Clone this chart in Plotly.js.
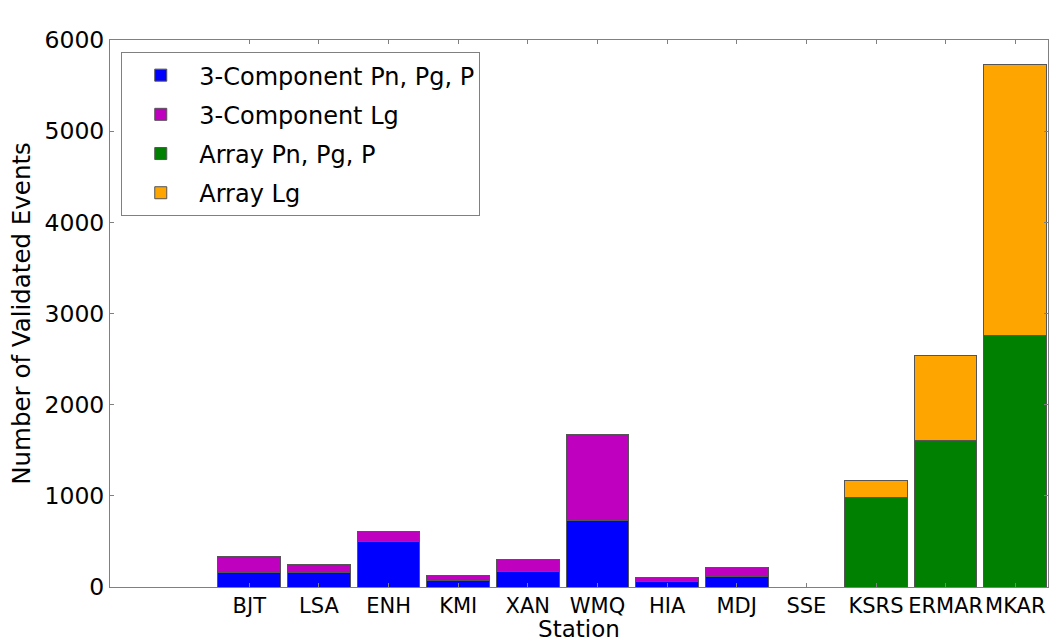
<!DOCTYPE html>
<html>
<head>
<meta charset="utf-8">
<script src="https://cdn.plot.ly/plotly-3.0.1.min.js"></script>
<style>html,body{margin:0;padding:0;background:#fff;}#chart{width:1051px;height:642px;}</style>
</head>
<body>
<div id="chart"></div>
<script>
const stations = ["BJT","LSA","ENH","KMI","XAN","WMQ","HIA","MDJ","SSE","KSRS","ERMAR","MKAR"];
const comp3P  = [160, 160, 500, 70, 175, 727, 55, 110, 0, 0, 0, 0];
const comp3Lg = [172, 90, 110, 55, 130, 943, 50, 102, 0, 0, 0, 0];
const arrayP  = [0, 0, 0, 0, 0, 0, 0, 0, 0, 979, 1611, 2759];
const arrayLg = [0, 0, 0, 0, 0, 0, 0, 0, 0, 194, 925, 2971];
const seriesNames = ["3-Component Pn, Pg, P", "3-Component Lg", "Array Pn, Pg, P", "Array Lg"];
const seriesColors = ["#0000ff", "#bf00bf", "#008000", "#ffa500"];
const yTicks = [0, 1000, 2000, 3000, 4000, 5000, 6000];

const xs = stations.map((s, i) => i);
const allSeries = [comp3P, comp3Lg, arrayP, arrayLg];
const traces = allSeries.map((vals, k) => ({
  type: "bar",
  x: xs,
  y: vals,
  name: seriesNames[k],
  legendgroup: "g" + k,
  width: 0.9,
  marker: {color: seriesColors[k], line: {color: "#555555", width: 1}},
  hoverinfo: "x+y+name"
}));

const layout = {
  width: 1051, height: 642,
  margin: {l: 110, r: 3, t: 40, b: 55},
  paper_bgcolor: "#ffffff", plot_bgcolor: "#ffffff",
  barmode: "stack",
  font: {family: "DejaVu Sans, sans-serif", color: "#000000"},
  showlegend: true,
  legend: {
    x: 0.012, y: 0.978, xanchor: "left", yanchor: "top",
    traceorder: "grouped",
    bordercolor: "#808080", borderwidth: 1, bgcolor: "#ffffff",
    font: {size: 24, family: "DejaVu Sans, sans-serif"},
    tracegroupgap: 5, itemwidth: 67
  },
  xaxis: {
    range: [-2.0, 11.47],
    tickmode: "array", tickvals: xs, ticktext: stations,
    tickangle: 0,
    ticks: "inside", ticklen: 4, tickcolor: "#808080",
    showline: true, linecolor: "#808080", linewidth: 1, mirror: "ticks",
    showgrid: false, zeroline: false,
    tickfont: {size: 21},
    title: {text: "Station", font: {size: 23}, standoff: 0}
  },
  yaxis: {
    range: [0, 6000],
    tickmode: "array", tickvals: yTicks, ticktext: yTicks.map(String),
    ticks: "inside", ticklen: 4, tickcolor: "#808080",
    showline: true, linecolor: "#808080", linewidth: 1, mirror: "ticks",
    showgrid: false, zeroline: false,
    tickfont: {size: 23.5},
    title: {text: "Number of Validated Events", font: {size: 24.5}, standoff: 6}
  }
};

Plotly.newPlot("chart", traces, layout, {displayModeBar: false, staticPlot: true});
</script>
</body>
</html>
